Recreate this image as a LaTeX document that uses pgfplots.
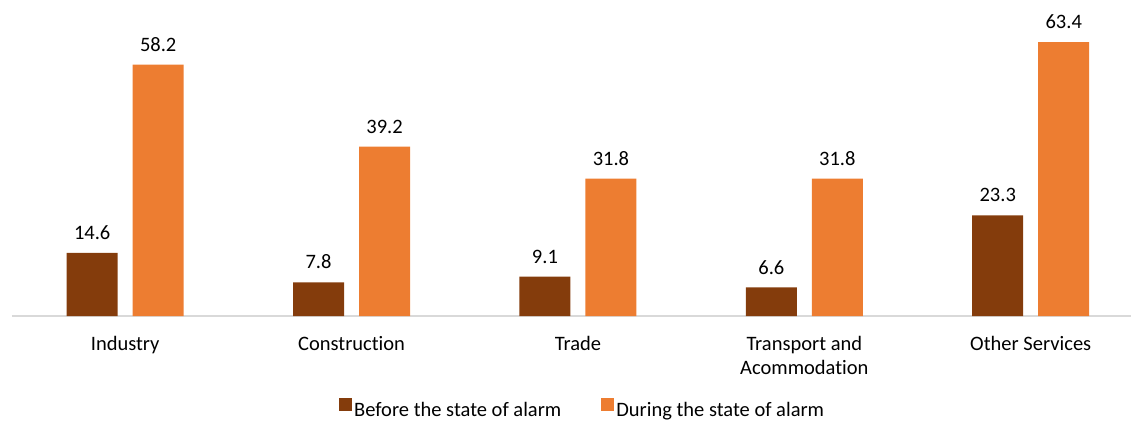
\documentclass[border=0pt]{standalone}
\usepackage{fontspec}
\setmainfont{Carlito}[Ligatures=NoCommon]
\usepackage{pgfplots}
\pgfplotsset{compat=1.18}
\definecolor{before}{HTML}{843C0C}
\definecolor{during}{HTML}{ED7D31}
\definecolor{axisgray}{HTML}{D9D9D9}
\newcommand{\chartfont}{\fontsize{20.5}{24.5}\selectfont}

\begin{document}
\begin{tikzpicture}
\path[use as bounding box] (-12pt,-104pt) rectangle (1119pt,316pt);
\begin{axis}[
  width=1119pt, height=316pt, scale only axis,
  ymin=0, ymax=73.15,
  xmin=-0.5, xmax=4.443,
  ybar=15pt, bar width=51pt,
  axis x line=bottom, axis y line=none,
  axis line style={-, draw=axisgray, line width=1.5pt},
  ytick=\empty,
  xtick={0,1,2,3,4},
  xticklabels={Industry, Construction, Trade, {Transport and\\Acommodation}, Other Services},
  xticklabel style={align=center, font=\chartfont, anchor=north, inner sep=0pt, yshift=-20pt},
  major tick length=0pt,
  nodes near coords,
  nodes near coords style={font=\chartfont, inner sep=0pt, yshift=13pt, anchor=south},
  /pgf/number format/.cd, fixed, fixed zerofill, precision=1, assume math mode=true, /pgfplots/.cd,
  legend columns=-1,
  legend style={draw=none, at={(0.510,-0.293)}, anchor=center,
    font=\chartfont,
    /tikz/every even column/.append style={column sep=38pt}},
  legend image code/.code={\fill[#1] (0pt,-1pt) rectangle (13pt,12pt);},
  clip=false,
]
\addplot[fill=before, draw=none] coordinates {(0,14.6) (1,7.8) (2,9.1) (3,6.6) (4,23.3)};
\addlegendentry{Before the state of alarm}
\addplot[fill=during, draw=none] coordinates {(0,58.2) (1,39.2) (2,31.8) (3,31.8) (4,63.4)};
\addlegendentry{During the state of alarm}
\end{axis}
\end{tikzpicture}
\end{document}
